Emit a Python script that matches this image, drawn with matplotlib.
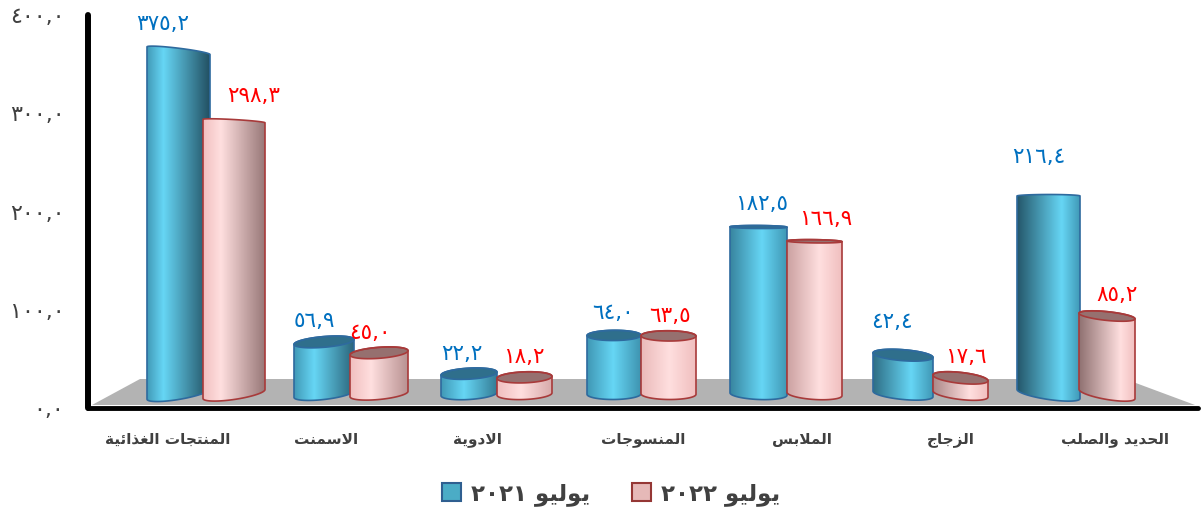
import numpy as np
import matplotlib
matplotlib.use("Agg")
import matplotlib.pyplot as plt
from matplotlib.patches import Patch, PathPatch, Polygon
from matplotlib.path import Path

categories = ["المنتجات الغذائية", "الاسمنت", "الادوية", "المنسوجات", "الملابس", "الزجاج", "الحديد والصلب"]
values_2021 = [375.2, 56.9, 22.2, 64.0, 182.5, 42.4, 216.4]
values_2022 = [298.3, 45.0, 18.2, 63.5, 166.9, 17.6, 85.2]
labels_2021 = ["٣٧٥,٢", "٥٦,٩", "٢٢,٢", "٦٤,٠", "١٨٢,٥", "٤٢,٤", "٢١٦,٤"]
labels_2022 = ["٢٩٨,٣", "٤٥,٠", "١٨,٢", "٦٣,٥", "١٦٦,٩", "١٧,٦", "٨٥,٢"]
y_ticks = [0, 100, 200, 300, 400]
y_tick_labels = ["٠,٠", "١٠٠,٠", "٢٠٠,٠", "٣٠٠,٠", "٤٠٠,٠"]
series_names = ["٢٠٢١ ", "٢٠٢٢ "]
month = "يوليو"

# label offsets from the top of each bar, in pixels
offsets_2021 = [(-15.5, 27), (-10, 21), (-7, 20), (-1, 22), (3.5, 23), (-11, 33), (-9.5, 39)]
offsets_2022 = [(20, 25), (-9, 20), (-0.5, 20), (1.5, 20), (11.5, 22), (5.5, 21), (10, 21)]

# perspective of the picture: pixel edges of the bars and of the category labels
edges_2021 = [(147, 210), (294, 354), (441, 497), (587, 641), (730, 787), (873, 933), (1017, 1080)]
edges_2022 = [(203, 265), (350, 408), (497, 552), (641, 696), (787, 842), (933, 988), (1079, 1135)]
label_centers = [168, 326, 477, 643, 802, 951, 1115]

# matplotlib does no arabic shaping, so use presentation forms in visual order
four_forms = {"ب": 0xFE8F, "ت": 0xFE95, "ج": 0xFE9D, "ح": 0xFEA1, "س": 0xFEB1, "ص": 0xFEB9,
              "غ": 0xFECD, "ل": 0xFEDD, "م": 0xFEE1, "ن": 0xFEE5, "ي": 0xFEF1, "ئ": 0xFE89}
two_forms = {"ا": 0xFE8D, "د": 0xFEA9, "ذ": 0xFEAB, "ر": 0xFEAD, "ز": 0xFEAF, "و": 0xFEED, "ة": 0xFE93}


def shape(text):
    out = []
    joined = False
    i = 0
    while i < len(text):
        c = text[i]
        if c == "ل" and text[i + 1:i + 2] == "ا":
            out.append(chr(0xFEFC if joined else 0xFEFB))
            joined = False
            i += 2
            continue
        if c in two_forms:
            out.append(chr(two_forms[c] + (1 if joined else 0)))
            joined = False
        elif c in four_forms:
            nxt = text[i + 1:i + 2]
            joins_next = nxt in four_forms or nxt in two_forms
            form = {(False, False): 0, (True, False): 1, (False, True): 2, (True, True): 3}[(joined, joins_next)]
            out.append(chr(four_forms[c] + form))
            joined = joins_next
        else:
            out.append(c)
            joined = False
        i += 1
    return "".join(reversed(out))


W, H = 1202, 509
LEFT, RIGHT, TOP, BOTTOM = 88, 1198, 15, 408
PX_X = 146.0
PX_Y = (BOTTOM - TOP) / 400.0
X0 = 205.0  # pixel of the first category
BASE = 14.0  # floor depth under the bars, px
SCALE = 0.915  # px per unit of the bars (they stand further back than the axis)
HORIZON = BOTTOM - 197
MIDDLE = 640.0

blue = dict(peak="#66d6f5", near="#3d93b0", far="#1f4a5c", cap="#2f6f8c", edge="#2e6a9e")
pink = dict(peak="#ffdfdf", near="#efbcbc", far="#8a6c6c", cap="#96706f", edge="#a83a3a")


def rgb(c):
    return np.array(matplotlib.colors.to_rgb(c))


def ellipse_pts(cx, u, a, t):
    dy = HORIZON - u
    b = min(5.5, max(1.5, 0.037 * dy if dy > 0 else -0.017 * dy))
    s = 1.8e-6 * dy * (MIDDLE - cx)
    return cx + a * np.cos(t), u + b * np.sin(t) + s * a * np.cos(t)


def to_data(px, pu):
    return (px - X0) / PX_X, pu / PX_Y


def cylinder(ax, cx, value, half, style, z):
    u0 = BASE
    u1 = BASE + value * SCALE
    # bottom arc from left to right, then top arc from right to left over the back
    bx, by = ellipse_pts(cx, u0, half, np.linspace(np.pi, 2 * np.pi, 40))
    tx, ty = ellipse_pts(cx, u1, half, np.linspace(0, np.pi, 40))
    xs, ys = to_data(np.r_[bx, tx], np.r_[by, ty])
    verts = np.c_[xs, ys]
    path = Path(np.vstack([verts, verts[0]]), closed=True)

    # shading, the side facing the middle of the chart is the dark one
    off = (cx - MIDDLE) / 450.0
    n = 128
    pos = np.linspace(0, 1, n)
    peak = 0.5 + 0.22 * off
    near_t = min(1, abs(off))
    dark = rgb(style["far"])
    soft = rgb(style["near"])
    mid = rgb(style["peak"])
    inner = soft + (dark - soft) * near_t
    left_c = inner if off > 0 else soft
    right_c = inner if off <= 0 else soft
    grad = np.zeros((1, n, 3))
    for k in range(3):
        grad[0, :, k] = np.interp(pos, [0, peak, 1], [left_c[k], mid[k], right_c[k]])
    x_a, _ = to_data(cx - half - 2, 0)
    x_b, _ = to_data(cx + half + 2, 0)
    im = ax.imshow(grad, extent=[x_a, x_b, 0, 400], aspect="auto", zorder=z)
    im.set_clip_path(PathPatch(path, transform=ax.transData))
    ax.add_patch(PathPatch(path, fc="none", ec=style["edge"], lw=1.2, zorder=z + 0.2))

    # the lid only shows on bars below eye level
    if u1 < HORIZON:
        cap_x, cap_y = ellipse_pts(cx, u1, half, np.linspace(0, 2 * np.pi, 80))
        ax.fill(*to_data(cap_x, cap_y), fc=style["cap"], ec=style["edge"], lw=1.2, zorder=z + 0.1)


fig = plt.figure(figsize=(W / 100, H / 100), dpi=100)
ax = fig.add_axes([LEFT / W, 1 - BOTTOM / H, (RIGHT - LEFT) / W, (BOTTOM - TOP) / H])

floor_px = [(92, 405), (140, 379), (1125, 379), (1195, 405)]
ax.add_patch(Polygon([to_data(x, BOTTOM - y) for x, y in floor_px], fc="#b3b3b3", ec="none", zorder=1))

for i in range(len(categories)):
    z = 3 + i
    for vals, labs, offs, edges, style, col, dz in [
            (values_2021, labels_2021, offsets_2021, edges_2021, blue, "#0070c0", 0),
            (values_2022, labels_2022, offsets_2022, edges_2022, pink, "#ff0000", 0.5)]:
        cx = (edges[i][0] + edges[i][1]) / 2
        half = (edges[i][1] - edges[i][0]) / 2
        cylinder(ax, cx, vals[i], half, style, z + dz)
        ax.annotate(labs[i], xy=to_data(cx, BASE + vals[i] * SCALE),
                    xytext=offs[i], textcoords="offset pixels", ha="center", va="center",
                    color=col, fontsize=15.5, zorder=20)

ax.set_xlim((LEFT - X0) / PX_X, (RIGHT - X0) / PX_X)
ax.set_ylim(0, 400)
ax.set_xticks([(p - X0) / PX_X for p in label_centers])
ax.set_xticklabels([shape(c) for c in categories], fontsize=11, fontweight="bold", color="#404040")
ax.set_yticks(y_ticks)
ax.set_yticklabels(y_tick_labels, fontsize=16, color="#404040")
ax.tick_params(axis="x", length=0, pad=17)
ax.tick_params(axis="y", length=0, pad=17)
for s in ["top", "right"]:
    ax.spines[s].set_visible(False)
ax.spines["left"].set_linewidth(4.3)
ax.spines["bottom"].set_linewidth(3.5)
for s in ["left", "bottom"]:
    ax.spines[s].set_capstyle("round")
    ax.spines[s].set_zorder(30)
ax.patch.set_alpha(0)

handles = [Patch(fc="#4bacc6", ec="#2f5f90", lw=1.5), Patch(fc="#e6b9b8", ec="#953735", lw=1.5)]
leg_labels = [n + shape(month) for n in series_names]
ax.legend(handles, leg_labels, ncol=2, frameon=False, loc="center",
          bbox_to_anchor=(611 / W, 1 - 494 / H), bbox_transform=fig.transFigure,
          prop=dict(size=16.5, weight="bold"), labelcolor="#404040",
          handlelength=0.84, handleheight=0.82, handletextpad=0.45, columnspacing=1.8)

fig.savefig("out.png", dpi=100)
